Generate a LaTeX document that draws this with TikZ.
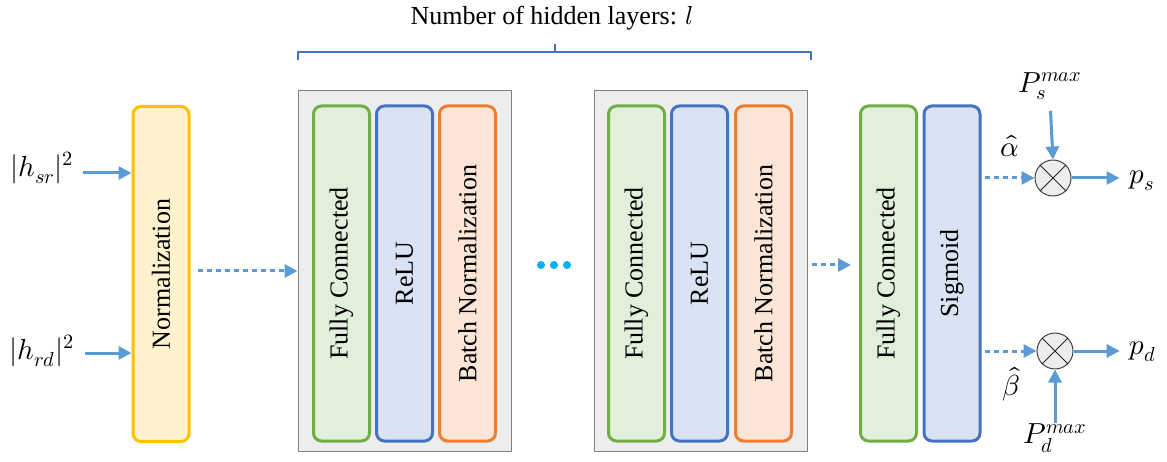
\documentclass[tikz,border=0pt]{standalone}
\usepackage{fontspec}
\usepackage{unicode-math}
\setmainfont{Liberation Serif}
\setmathfont{Latin Modern Math}
\usetikzlibrary{arrows.meta,calc}
\definecolor{fcline}{HTML}{70AD47}\definecolor{fcfill}{HTML}{E2EFDA}
\definecolor{reluline}{HTML}{4472C4}\definecolor{relufill}{HTML}{DAE3F3}
\definecolor{bnline}{HTML}{ED7D31}\definecolor{bnfill}{HTML}{FBE5D6}
\definecolor{normline}{HTML}{FFC000}\definecolor{normfill}{HTML}{FFF2CC}
\definecolor{arrowblue}{HTML}{5B9BD5}\definecolor{dotblue}{HTML}{00B0F0}
\tikzset{
  layer/.style={rotate=90,line width=3pt,rounded corners=8pt,minimum width=335pt,minimum height=56pt,inner sep=0pt},
  fc/.style={layer,draw=fcline,fill=fcfill},
  relu/.style={layer,draw=reluline,fill=relufill},
  bn/.style={layer,draw=bnline,fill=bnfill},
  norm/.style={layer,draw=normline,fill=normfill},
  hidden/.style={draw=black!50,fill=black!7,line width=1pt,minimum width=213pt,minimum height=360pt,inner sep=0pt},
  mult/.style={circle,draw=black!75,fill=black!7,line width=1pt,minimum size=36pt,inner sep=0pt},
  mathlbl/.style={font=\fontsize{29}{32}\selectfont,inner sep=1pt},
  flow/.style={arrowblue,line width=3pt,-{Triangle[length=13pt,width=13pt]}},
  dotflow/.style={flow,dash pattern=on 5pt off 4pt}
}
\begin{document}
\begin{tikzpicture}[x=1pt,y=-1pt,font=\fontsize{26}{30}\selectfont,line join=round]
\useasboundingbox (0,0) rectangle (1167,462);
% title and brace
\node (title) at (552,18) {Number of hidden layers: $l$};
\path (298,60)coordinate(BL) (298,52)coordinate(BA) (811,52)coordinate(BB) (811,60)coordinate(BR)
  (555,52)coordinate(BM) (555,44)coordinate(BT);
\draw[reluline,line width=1.3pt] (BL)--(BA)--(BB)--(BR) (BM)--(BT);
% input side
\node[mathlbl] (hsr) at (42,168) {$|h_{sr}|^2$};
\node[mathlbl] (hrd) at (42,351) {$|h_{rd}|^2$};
\node[norm] (norm) at (161,274) {Normalization};
\path (83,173) coordinate(hsrA) (85,353) coordinate(hrdA);
\draw[flow] (hsrA) -- (hsrA-|norm.north);
\draw[flow] (hrdA) -- (hrdA-|norm.north);
% hidden layers
\node[hidden] (hid1) at (404.5,271) {};
\node[hidden] (hid2) at (701,271) {};
\node[fc] (fc1) at (341.5,273.5) {Fully Connected};
\node[relu] (relu1) at (404.5,273.5) {ReLU};
\node[bn] (bn1) at (467.5,273.5) {Batch Normalization};
\node[fc] (fc2) at (636.5,273.5) {Fully Connected};
\node[relu] (relu2) at (699.5,273.5) {ReLU};
\node[bn] (bn2) at (763.5,273.5) {Batch Normalization};
\foreach \x in {541,554,567}
  \fill[dotblue] (\x,265) circle (4pt);
\path (norm.south|-0,271)++(7pt,0) coordinate(nA);
\draw[dotflow] (nA) -- (hid1.west|-nA);
% output layers
\node[fc] (fc3) at (888.5,273.5) {Fully Connected};
\node[relu] (sig) at (952,273.5) {Sigmoid};
\path (hid2.east|-0,265)++(4pt,0) coordinate(hA);
\draw[dotflow] (hA) -- ($(fc3.north|-hA)+(-8pt,0)$);
\node[mult] (m1) at (1053,178) {};
\node[mult] (m2) at (1055,351) {};
\foreach \m in {m1,m2}
  \draw[black!85,line width=1pt] (\m.45)--(\m.225) (\m.135)--(\m.315);
\draw[dotflow] (sig.south|-m1)++(3pt,0) -- (m1.west);
\draw[dotflow] (sig.south|-m2)++(3pt,0) -- (m2.west);
\node[mathlbl] (alpha) at (1010,146) {$\hat{\alpha}$};
\node[mathlbl] (beta) at (1011,384) {$\hat{\beta}$};
\node[mathlbl] (psmax) at (1050,86) {$P_s^{max}$};
\node[mathlbl] (pdmax) at (1055,438) {$P_d^{max}$};
\draw[flow,shorten <=10pt] (psmax.south) -- (m1.north);
\draw[flow] (pdmax.north) -- (m2.south);
\node[mathlbl] (ps) at (1142,181) {$p_s$};
\node[mathlbl] (pd) at (1143,352) {$p_d$};
\draw[flow] (m1.east) -- ($(m1.east-|ps.west)+(-9pt,0)$);
\draw[flow] (m2.east) -- ($(m2.east-|pd.west)+(-9pt,0)$);
\end{tikzpicture}
\end{document}
